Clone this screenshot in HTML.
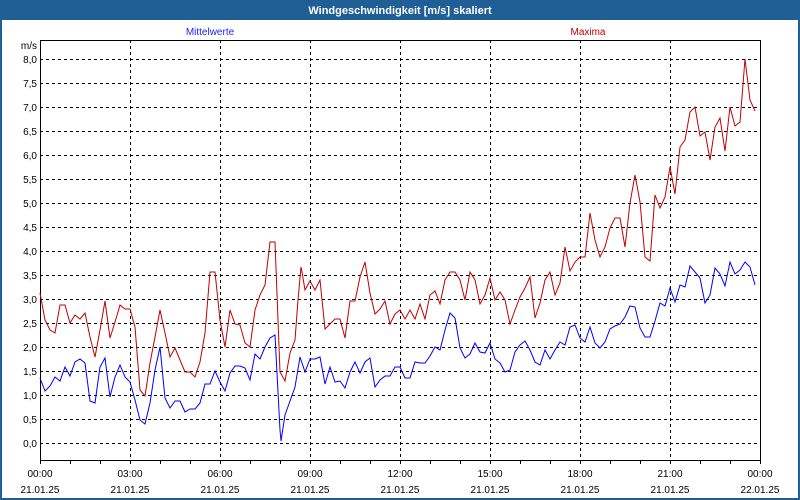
<!DOCTYPE html>
<html><head><style>
html,body{margin:0;padding:0;background:#fff;}
svg{display:block;font-family:"Liberation Sans",sans-serif;}
</style></head><body>
<svg width="800" height="500" xmlns="http://www.w3.org/2000/svg">
<rect x="0" y="0" width="800" height="500" fill="#1f5f96"/>
<rect x="2" y="20" width="796" height="478" fill="#fff"/>
<text x="400" y="14" fill="#fff" font-size="11" font-weight="bold" text-anchor="middle">Windgeschwindigkeit [m/s] skaliert</text>
<text x="210" y="35" fill="#2020ff" font-size="10" text-anchor="middle">Mittelwerte</text>
<text x="588" y="35" fill="#c00000" font-size="10" text-anchor="middle">Maxima</text>
<text x="37" y="49" font-size="10" text-anchor="end">m/s</text>
<g stroke="#000" stroke-width="1" stroke-dasharray="3,3" shape-rendering="crispEdges">
<path d="M40 59.5H760M40 83.5H760M40 107.5H760M40 131.5H760M40 155.5H760M40 179.5H760M40 203.5H760M40 227.5H760M40 251.5H760M40 275.5H760M40 299.5H760M40 323.5H760M40 347.5H760M40 371.5H760M40 395.5H760M40 419.5H760M40 443.5H760"/>
<path d="M130.5 40V460M220.5 40V460M310.5 40V460M400.5 40V460M490.5 40V460M580.5 40V460M670.5 40V460"/>
</g>
<g stroke="#000" stroke-width="1" fill="none" shape-rendering="crispEdges">
<path d="M40.5 40V460.5H760.5V40M40 40.5H760"/>
<path d="M40.5 460V464M70.5 460V464M100.5 460V464M130.5 460V464M160.5 460V464M190.5 460V464M220.5 460V464M250.5 460V464M280.5 460V464M310.5 460V464M340.5 460V464M370.5 460V464M400.5 460V464M430.5 460V464M460.5 460V464M490.5 460V464M520.5 460V464M550.5 460V464M580.5 460V464M610.5 460V464M640.5 460V464M670.5 460V464M700.5 460V464M730.5 460V464M760.5 460V464"/>
</g>
<g font-size="10" text-anchor="end">
<text x="37" y="63">8,0</text><text x="37" y="87">7,5</text><text x="37" y="111">7,0</text><text x="37" y="135">6,5</text><text x="37" y="159">6,0</text><text x="37" y="183">5,5</text><text x="37" y="207">5,0</text><text x="37" y="231">4,5</text><text x="37" y="255">4,0</text><text x="37" y="279">3,5</text><text x="37" y="303">3,0</text><text x="37" y="327">2,5</text><text x="37" y="351">2,0</text><text x="37" y="375">1,5</text><text x="37" y="399">1,0</text><text x="37" y="423">0,5</text><text x="37" y="447">0,0</text>
</g>
<g font-size="10" text-anchor="middle">
<text x="40" y="477">00:00</text><text x="130" y="477">03:00</text><text x="220" y="477">06:00</text><text x="310" y="477">09:00</text><text x="400" y="477">12:00</text><text x="490" y="477">15:00</text><text x="580" y="477">18:00</text><text x="670" y="477">21:00</text><text x="760" y="477">00:00</text>
<text x="40" y="493">21.01.25</text><text x="130" y="493">21.01.25</text><text x="220" y="493">21.01.25</text><text x="310" y="493">21.01.25</text><text x="400" y="493">21.01.25</text><text x="490" y="493">21.01.25</text><text x="580" y="493">21.01.25</text><text x="670" y="493">21.01.25</text><text x="760" y="493">22.01.25</text>
</g>
<polyline fill="none" stroke="#c00000" stroke-width="1" points="40,293 45,320 50,330 55,333 60,305 65,305 70,323 75,315 80,319 85,313 90,337 95,357 100,330 105,301 110,338 115,322 120,305 125,309 130,309 135,327 140,390 145,396 150,363 155,337 160,310 165,333 170,357 175,348 180,360 185,372 190,372 195,377 200,362 205,333 210,272 215,272 220,320 225,347 230,310 235,324 240,325 245,343 250,347 255,310 260,295 265,285 270,242 275,242 280,372 285,381 290,353 295,340 298,300 301,267 302,272 305,290 310,281 315,290 320,280 325,329 330,324 335,319 340,319 345,338 350,301 355,301 360,277 365,262 370,293 375,314 380,309 385,301 390,324 395,314 400,310 405,319 410,310 415,319 420,304 425,319 430,295 435,291 440,304 445,280 450,272 455,272 460,280 465,300 470,272 475,280 480,304 485,295 490,278 495,300 500,292 505,300 510,324 515,310 520,297 525,288 530,277 535,318 540,303 545,280 550,272 555,295 560,283 565,247 570,271 575,262 580,257 585,257 590,213 595,240 600,257 605,247 610,228 615,218 620,218 625,247 630,203 635,175 640,202 645,257 650,261 655,195 660,208 665,197 670,167 675,194 680,147 685,140 690,112 695,107 700,136 705,132 710,160 715,127 720,118 725,151 730,107 735,126 740,122 745,59 750,100 755,111"/>
<polyline fill="none" stroke="#0000ff" stroke-width="1" points="40,378 45,391 50,386 55,377 60,381 65,367 70,376 75,362 80,359 85,363 90,401 95,403 100,367 105,358 110,397 115,377 120,365 125,377 130,382 135,400 140,420 145,424 150,403 155,370 160,347 165,398 170,408 175,401 180,401 185,412 190,409 195,409 200,403 205,384 210,384 215,371 220,382 225,391 230,373 235,366 240,366 245,368 250,380 255,354 260,359 265,347 270,338 275,335 280,430 281,441 285,415 290,401 295,387 300,357 305,372 310,359 315,359 320,357 325,384 330,367 335,382 340,381 345,388 350,372 355,362 360,373 365,362 370,358 375,387 380,380 385,376 390,376 395,367 400,367 405,378 410,378 415,362 420,363 425,363 430,356 435,347 440,350 445,330 450,313 455,318 460,348 465,358 470,354 475,343 480,352 485,353 490,343 495,359 500,363 505,372 510,370 515,352 520,345 525,341 530,350 535,362 540,365 545,350 550,359 555,350 560,342 565,345 570,327 575,325 580,338 585,342 590,327 595,343 600,348 605,342 610,329 615,326 620,324 625,317 630,306 635,307 640,328 645,337 650,337 655,321 660,303 665,306 670,288 675,302 680,285 685,287 690,266 695,272 700,278 705,303 710,295 715,268 720,274 725,286 730,262 735,274 740,270 745,262 750,267 755,285"/>
</svg>
</body></html>
